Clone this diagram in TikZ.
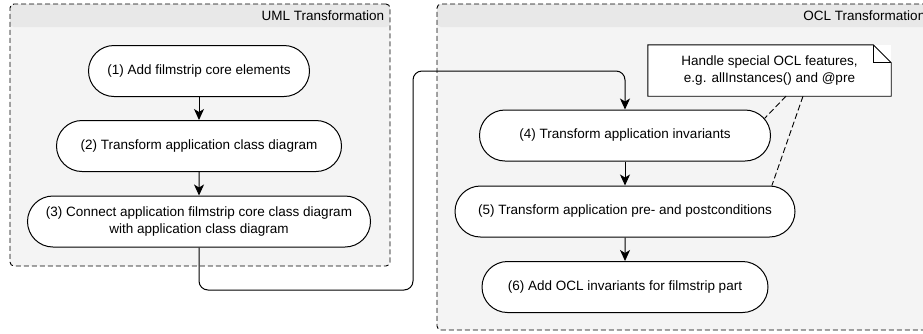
\documentclass[tikz,border=0pt]{standalone}
\usepackage{fontspec}
\setmainfont{Liberation Sans}
\usetikzlibrary{shapes.misc,arrows.meta,calc}
\definecolor{bodycol}{HTML}{F4F4F4}
\definecolor{headcol}{HTML}{E8E8E8}
\begin{document}
\begin{tikzpicture}[x=1pt,y=-1pt,
  txt/.style={font=\fontsize{13.5}{17}\selectfont, align=center},
  stepnode/.style={txt, rounded rectangle, draw, fill=white, line width=1pt, minimum height=51pt, inner sep=0pt},
  arr/.style={-{Stealth[length=11pt,width=10pt,inset=3pt]}, line width=1pt},
  container/.style={draw, dash pattern=on 5pt off 3pt, fill=bodycol, rounded corners=4pt, line width=0.9pt, inner sep=0pt,
    path picture={\fill[headcol] (path picture bounding box.north west) rectangle ([yshift=-23pt]path picture bounding box.north east);}},
  notelink/.style={dash pattern=on 6pt off 3pt, line width=0.9pt}
]
\useasboundingbox (0,0) rectangle (923,333);

% containers
\node[container, minimum width=380pt, minimum height=262pt] (uml) at (200,135) {};
\node[container, minimum width=494pt, minimum height=326pt] (ocl) at (684,167) {};
\node[txt, anchor=east, inner sep=0pt] (umlt) at ($(uml.north east)+(-6,12)$) {UML Transformation};
\node[txt, anchor=east, inner sep=0pt] (oclt) at ($(ocl.north east)+(-6,12)$) {OCL Transformation};

% steps
\node[stepnode, minimum width=221pt] (n1) at (199,71) {(1) Add filmstrip core elements};
\node[stepnode, minimum width=285pt] (n2) at (199,146) {(2) Transform application class diagram};
\node[stepnode, minimum width=343pt] (n3) at (199,221.5) {(3) Connect application filmstrip core class diagram\\with application class diagram};
\node[stepnode, minimum width=291pt] (n4) at (625,135.5) {(4) Transform application invariants};
\node[stepnode, minimum width=340pt] (n5) at (625,211.5) {(5) Transform application pre- and postconditions};
\node[stepnode, minimum width=286pt] (n6) at (625,287) {(6) Add OCL invariants for filmstrip part};

% note
\node[txt, minimum width=243pt, minimum height=51pt, inner sep=0pt, fill=white] (note) at (769.5,70.5) {Handle special OCL features,\\e.g. allInstances() and @pre};
\draw[line width=0.9pt] (note.north west) -- ($(note.north east)+(-18,0)$) -- ($(note.north east)+(0,18)$) -- (note.south east) -- (note.south west) -- cycle;
\draw[line width=0.9pt] ($(note.north east)+(-18,0)$) -- ($(note.north east)+(-18,18)$) -- ($(note.north east)+(0,18)$);

% arrows
\draw[arr] (n1) -- (n2);
\draw[arr] (n2) -- (n3);
\draw[arr] (n4) -- (n5);
\draw[arr] (n5) -- (n6);
\coordinate (b1) at (413,290);
\coordinate (b2) at (413,71);
\draw[arr, rounded corners=9pt] (n3.south) -- (n3.south |- b1) -- (b1) -- (b2) -- (n4.north |- b2) -- (n4.north);

% note links
\draw[notelink] ($(note.south)+(16.5,0)$) -- (n4.7);
\draw[notelink] ($(note.south)+(33.5,0)$) -- (n5.10);
\end{tikzpicture}
\end{document}
